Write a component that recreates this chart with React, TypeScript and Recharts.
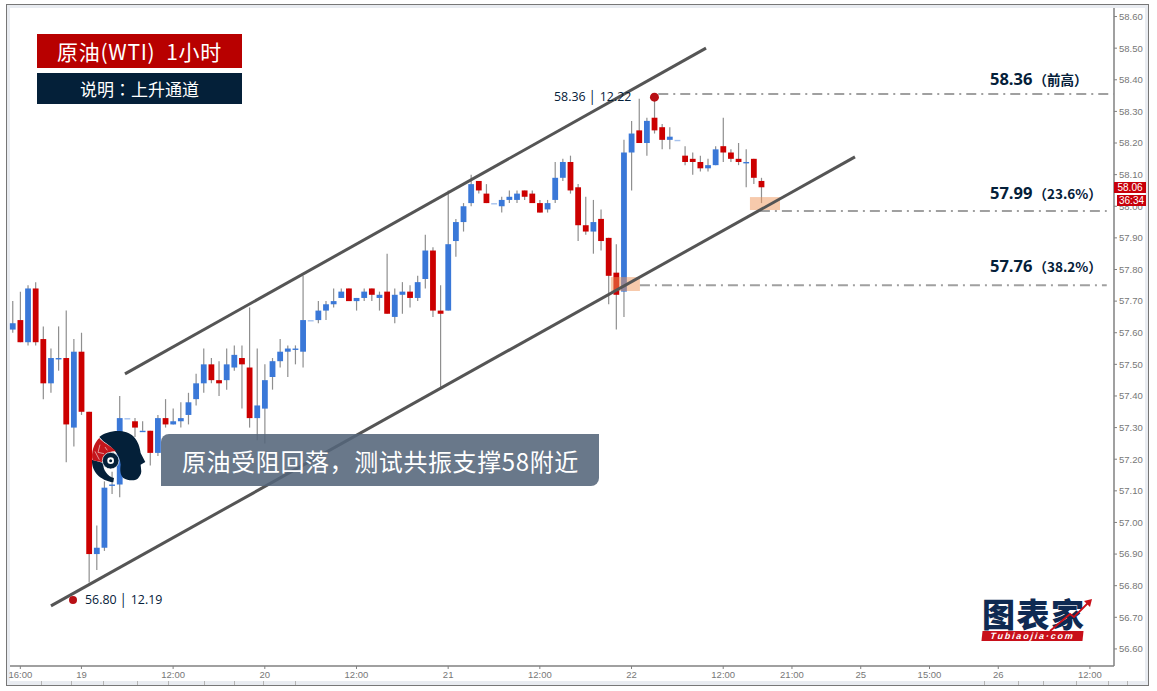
import {
  ComposedChart,
  Bar,
  XAxis,
  YAxis,
  ReferenceLine,
  ReferenceArea,
  ReferenceDot,
} from "recharts";

const NAVY = "#042039";
const RED = "#cc0000";
const BLUE = "#3a78d8";
const WICK = "#8f8f8f";
const AXIS = "#808080";
const CJK = '"Noto Sans CJK SC", "Noto Sans", sans-serif';

const opens = [
  57.61, 57.64, 57.57, 57.74, 57.58, 57.44, 57.52, 57.52, 57.3, 57.54,
  57.35, 56.9, 56.92, 57.12, 57.12, 57.33, 57.32, 57.29, 57.29, 57.22,
  57.33, 57.31, 57.32, 57.34, 57.39, 57.44, 57.5, 57.45, 57.45, 57.49,
  57.52, 57.49, 57.33, 57.36, 57.46, 57.51, 57.54, 57.55, 57.54, 57.64,
  57.64, 57.67, 57.69, 57.71, 57.74, 57.7, 57.71, 57.74, 57.71, 57.73,
  57.65, 57.72, 57.73, 57.71, 57.77, 57.86, 57.67, 57.67, 57.89, 57.95,
  58.01, 58.08, 58.04, 58.01, 58.0, 58.02, 58.02, 58.05, 58.04, 58.01,
  57.99, 58.02, 58.09, 58.14, 58.06, 57.94, 57.92, 57.96, 57.9, 57.79,
  57.73, 58.17, 58.24, 58.2, 58.28, 58.25, 58.21, 58.21, 58.16, 58.15,
  58.14, 58.12, 58.13, 58.19, 58.17, 58.15, 58.14, 58.15, 58.08,
];
const highs = [
  57.7, 57.73, 57.75, 57.76, 57.62, 57.55, 57.62, 57.67, 57.58, 57.6,
  57.35, 56.99, 57.13, 57.16, 57.4, 57.33, 57.33, 57.32, 57.29, 57.34,
  57.39, 57.36, 57.38, 57.41, 57.47, 57.55, 57.52, 57.51, 57.55, 57.56,
  57.56, 57.68, 57.55, 57.5, 57.52, 57.58, 57.56, 57.56, 57.78, 57.64,
  57.7, 57.7, 57.74, 57.74, 57.74, 57.71, 57.74, 57.74, 57.73, 57.85,
  57.74, 57.76, 57.75, 57.78, 57.91, 57.87, 57.75, 58.05, 57.96, 58.01,
  58.1, 58.08, 58.07, 58.01, 58.03, 58.05, 58.05, 58.05, 58.05, 58.02,
  58.02, 58.14, 58.15, 58.16, 58.07, 58.03, 58.02, 57.99, 57.9, 57.88,
  58.21, 58.27, 58.34, 58.28, 58.35, 58.26, 58.25, 58.21, 58.19, 58.17,
  58.16, 58.15, 58.19, 58.28, 58.18, 58.2, 58.18, 58.15, 58.09,
];
const lows = [
  57.6, 57.57, 57.56, 57.56, 57.39, 57.41, 57.48, 57.19, 57.24, 57.34,
  56.81, 56.85, 56.91, 57.09, 57.08, 57.33, 57.27, 57.29, 57.18, 57.21,
  57.3, 57.31, 57.3, 57.31, 57.37, 57.41, 57.44, 57.4, 57.42, 57.48,
  57.36, 57.3, 57.26, 57.25, 57.42, 57.49, 57.46, 57.5, 57.49, 57.64,
  57.63, 57.64, 57.68, 57.71, 57.7, 57.67, 57.7, 57.7, 57.67, 57.66,
  57.63, 57.66, 57.68, 57.7, 57.74, 57.65, 57.42, 57.67, 57.84, 57.92,
  58.0, 58.04, 58.01, 58.01, 57.98, 58.01, 58.01, 58.02, 58.01, 57.98,
  57.98, 58.01, 58.08, 58.04, 57.89, 57.91, 57.85, 57.86, 57.69, 57.61,
  57.65, 58.05, 58.2, 58.16, 58.23, 58.18, 58.18, 58.21, 58.13, 58.1,
  58.11, 58.11, 58.13, 58.14, 58.14, 58.13, 58.06, 58.07, 58.01,
];
const closes = [
  57.63, 57.57, 57.74, 57.57, 57.44, 57.52, 57.52, 57.31, 57.54, 57.35,
  56.9, 56.92, 57.11, 57.12, 57.33, 57.33, 57.3, 57.29, 57.22, 57.33,
  57.31, 57.32, 57.33, 57.38, 57.44, 57.5, 57.45, 57.44, 57.5, 57.53,
  57.5, 57.33, 57.37, 57.45, 57.51, 57.54, 57.55, 57.55, 57.64, 57.64,
  57.67, 57.69, 57.7, 57.73, 57.7, 57.71, 57.73, 57.72, 57.72, 57.66,
  57.72, 57.73, 57.71, 57.76, 57.86, 57.67, 57.66, 57.88, 57.95, 58.0,
  58.07, 58.05, 58.01, 58.01, 58.02, 58.03, 58.04, 58.03, 58.01, 57.98,
  58.01, 58.09, 58.14, 58.05, 57.94, 57.92, 57.95, 57.89, 57.78, 57.72,
  58.17, 58.23, 58.2, 58.27, 58.24, 58.21, 58.22, 58.21, 58.14, 58.14,
  58.12, 58.13, 58.18, 58.17, 58.15, 58.14, 58.14, 58.09, 58.06,
];

const xTicks = [1, 9, 21, 33, 45, 57, 69, 81, 93, 102, 111, 120, 129, 141];
const xLabels = [
  "16:00", "19", "12:00", "20", "12:00", "21", "12:00", "22", "12:00",
  "21:00", "25", "15:00", "26", "12:00",
];
const yTicks = [
  56.6, 56.7, 56.8, 56.9, 57.0, 57.1, 57.2, 57.3, 57.4, 57.5, 57.6, 57.7,
  57.8, 57.9, 58.0, 58.1, 58.2, 58.3, 58.4, 58.5, 58.6,
];
const statusSeparators = [41, 71, 103, 137, 168, 204, 234, 263, 295, 984, 1018, 1043, 1076, 1108, 1127];

const data = opens.map((open, i) => ({
  idx: i,
  open,
  high: highs[i],
  low: lows[i],
  close: closes[i],
  range: [lows[i], highs[i]],
}));

function Candle(props: any) {
  const { x, y, width, height, payload } = props;
  const { open, close, high, low } = payload;
  const span = high - low;
  const yAt = (p: number) => (span === 0 ? y : y + ((high - p) / span) * height);
  const cx = x + width / 2;
  const top = yAt(Math.max(open, close));
  const bottom = yAt(Math.min(open, close));
  const up = close >= open;
  return (
    <g>
      {span > 0 ? (
        <line x1={cx} x2={cx} y1={y} y2={y + height} stroke={WICK} strokeWidth={1.2} />
      ) : null}
      <rect
        x={x}
        y={top}
        width={width}
        height={Math.max(bottom - top, 1.4)}
        fill={up ? BLUE : RED}
        opacity={span === 0 ? 0.45 : 1}
      />
    </g>
  );
}

function Tag({ left, top, width, height, text, size }: any) {
  return (
    <div
      style={{
        position: "absolute",
        left,
        top,
        width,
        height,
        lineHeight: `${height}px`,
        background: "#c8000a",
        color: "#fff",
        fontFamily: '"Liberation Sans", sans-serif',
        fontSize: size,
        textAlign: "center",
      }}
    >
      {text}
    </div>
  );
}

function LevelLabel({ top, price, note }: any) {
  return (
    <div
      style={{
        position: "absolute",
        left: 990,
        top,
        color: NAVY,
        fontFamily: '"Open Sans", "Noto Sans CJK SC", sans-serif',
        fontWeight: 700,
        whiteSpace: "nowrap",
        lineHeight: "20px",
      }}
    >
      <span style={{ fontSize: 16.5 }}>{price}</span>
      <span style={{ fontSize: 13.5, fontFamily: CJK, marginLeft: 1 }}>{note}</span>
    </div>
  );
}

function PriceNote({ left, top, text }: any) {
  return (
    <div
      style={{
        position: "absolute",
        left,
        top,
        color: NAVY,
        fontFamily: '"Open Sans", sans-serif',
        fontSize: 12.4,
        lineHeight: "16px",
        whiteSpace: "pre",
      }}
    >
      {text}
    </div>
  );
}

function HeadLogo() {
  return (
    <svg
      width={58.3}
      height={56.7}
      viewBox="60 55 175 170"
      style={{ position: "absolute", left: 90, top: 428.3 }}
    >
      <path
        d="M88 82 C110 62 165 55 190 80 C205 95 210 115 212 130 L226 157 L212 165 L214 185 C214 195 208 200 205 205 C200 214 175 215 160 205 C150 195 150 180 152 165 C150 135 130 115 100 95 Z"
        fill={NAVY}
      />
      <path
        d="M66 150 C64 185 90 212 130 218 L132 205 C112 200 98 180 100 160 Z"
        fill={NAVY}
      />
      <path
        d="M88 85 C95 97 125 110 138 125 C115 122 100 140 98 158 L68 152 C62 130 72 100 88 85 Z"
        fill="#c4161c"
      />
      <path d="M90 105 L84 128 L102 132 M75 125 L88 150 M105 112 L112 122" stroke="#f3d5d5" strokeWidth={2} fill="none" />
      <circle cx={122} cy={153} r={25} fill={NAVY} stroke="#fff" strokeWidth={2} />
      <circle cx={122} cy={153} r={10} fill="#fff" />
      <circle cx={122} cy={153} r={4.5} fill={NAVY} />
    </svg>
  );
}

function BrandLogo() {
  return (
    <div style={{ position: "absolute", left: 982, top: 598, width: 112, height: 46 }}>
      <div
        style={{
          position: "absolute",
          left: 0,
          top: -3,
          fontFamily: CJK,
          fontWeight: 900,
          fontSize: 33,
          lineHeight: "36px",
          color: "#0f2a52",
          letterSpacing: 1.5,
          whiteSpace: "nowrap",
        }}
      >
        图表家
      </div>
      <div
        style={{
          position: "absolute",
          left: 0,
          top: 33,
          width: 101,
          height: 10,
          background: "#c8101a",
          color: "#fff",
          fontFamily: '"Liberation Sans", sans-serif',
          fontWeight: 700,
          fontStyle: "italic",
          fontSize: 9,
          lineHeight: "10px",
          letterSpacing: 1.8,
          textAlign: "center",
          transform: "skewX(-6deg)",
        }}
      >
        Tubiaojia·com
      </div>
      <svg width={112} height={46} style={{ position: "absolute", left: 0, top: 0 }}>
        <path d="M68 33 L88 16 L92 19 L107 4" stroke="#c8101a" strokeWidth={1.8} fill="none" />
        <path d="M102 3 L110 1 L108 9 Z" fill="#c8101a" />
      </svg>
    </div>
  );
}

export default function App() {
  return (
    <div style={{ position: "absolute", left: 0, top: 0, width: 1157, height: 691, background: "#fff", overflow: "hidden" }}>
      {/* window frame */}
      <div
        style={{
          position: "absolute",
          left: 6,
          top: 4,
          width: 1143,
          height: 682,
          boxSizing: "border-box",
          border: "1.5px solid #777",
          background: "#e9ecf1",
        }}
      />
      <div style={{ position: "absolute", left: 10, top: 8, width: 1135, height: 673, background: "#fff" }} />
      {statusSeparators.map((left) => (
        <div key={left} style={{ position: "absolute", left, top: 681, width: 1, height: 4, background: "#b5b5b5" }} />
      ))}

      <div style={{ position: "absolute", left: 0, top: 0 }}>
        <ComposedChart
          width={1145}
          height={681}
          data={data}
          margin={{ top: 8, right: 0, left: 10, bottom: 0 }}
        >
          <XAxis
            type="number"
            dataKey="idx"
            domain={[-0.35, 144.15]}
            ticks={xTicks}
            interval={0}
            height={15}
            tickSize={3}
            tickMargin={2}
            axisLine={{ stroke: AXIS, strokeWidth: 1.5 }}
            tickLine={{ stroke: AXIS }}
            tick={{ fill: "#777", fontSize: 9.5, fontFamily: '"Liberation Sans", sans-serif' }}
            tickFormatter={(v) => xLabels[xTicks.indexOf(v)]}
          />
          <YAxis
            orientation="right"
            type="number"
            domain={[56.546, 58.627]}
            ticks={yTicks}
            interval={0}
            width={31}
            tickSize={3}
            tickMargin={2}
            axisLine={{ stroke: AXIS, strokeWidth: 1.5 }}
            tickLine={{ stroke: AXIS }}
            tick={{ fill: "#777", fontSize: 9.5, fontFamily: '"Liberation Sans", sans-serif' }}
            tickFormatter={(v) => Number(v).toFixed(2)}
          />
          <Bar dataKey="range" barSize={5.8} shape={Candle} isAnimationActive={false} />
          <ReferenceArea x1={78.3} x2={82.1} y1={57.732} y2={57.776} fill="#f0965a" fillOpacity={0.5} stroke="none" {...({ zIndex: 350 } as any)} />
          <ReferenceArea x1={96.5} x2={100.43} y1={57.988} y2={58.029} fill="#f0965a" fillOpacity={0.5} stroke="none" {...({ zIndex: 350 } as any)} />
          <ReferenceLine
            segment={[{ x: 84.5, y: 58.355 }, { x: 144.1, y: 58.355 }]}
            stroke="#a0a0a0"
            strokeWidth={2}
            strokeDasharray="10 5 2 5"
          />
          <ReferenceLine
            segment={[{ x: 97.8, y: 57.985 }, { x: 143.2, y: 57.985 }]}
            stroke="#a0a0a0"
            strokeWidth={2}
            strokeDasharray="10 5 2 5"
          />
          <ReferenceLine
            segment={[{ x: 82.1, y: 57.75 }, { x: 143.2, y: 57.75 }]}
            stroke="#a0a0a0"
            strokeWidth={2}
            strokeDasharray="10 5 2 5"
          />
          <ReferenceLine
            segment={[{ x: 14.7, y: 57.47 }, { x: 90.75, y: 58.5 }]}
            stroke="#555"
            strokeWidth={3}
          />
          <ReferenceLine
            segment={[{ x: 5.01, y: 56.736 }, { x: 110.25, y: 58.156 }]}
            stroke="#555"
            strokeWidth={3}
          />
          <ReferenceDot x={84} y={58.345} r={4.5} fill="#b80f14" stroke="none" />
          <ReferenceDot x={7.9} y={56.755} r={4} fill="#b80f14" stroke="none" />
        </ComposedChart>
      </div>

      {/* title boxes */}
      <div
        style={{
          position: "absolute",
          left: 37,
          top: 34,
          width: 205,
          height: 34,
          background: "#b80000",
          color: "#fff",
          fontFamily: CJK,
          fontSize: 21,
          letterSpacing: 0.7,
          lineHeight: "34px",
          textAlign: "center",
          whiteSpace: "pre",
        }}
      >
        原油(WTI)  1小时
      </div>
      <div
        style={{
          position: "absolute",
          left: 37,
          top: 73,
          width: 205,
          height: 31,
          background: NAVY,
          color: "#fff",
          fontFamily: CJK,
          fontSize: 17,
          lineHeight: "31px",
          textAlign: "center",
          whiteSpace: "pre",
        }}
      >
        说明<span style={{ fontFamily: '"Noto Sans CJK TC"' }}>：</span>上升通道
      </div>

      <PriceNote left={554} top={89} text="58.36 │ 12.22" />
      <PriceNote left={85} top={592} text="56.80 │ 12.19" />
      <LevelLabel top={69} price="58.36" note="（前高）" />
      <LevelLabel top={183} price="57.99" note="（23.6%）" />
      <LevelLabel top={256} price="57.76" note="（38.2%）" />

      <Tag left={1114} top={182} width={32} height={11} text="58.06" size={10} />
      <Tag left={1117} top={195} width={29} height={11} text="36:34" size={10} />

      <div
        style={{
          position: "absolute",
          left: 161,
          top: 434,
          width: 438,
          height: 52,
          borderRadius: "8px 0 8px 0",
          background: "rgba(84,101,122,0.88)",
          color: "#fff",
          fontFamily: CJK,
          fontSize: 24,
          letterSpacing: 0.6,
          lineHeight: "53px",
          paddingLeft: 21,
          boxSizing: "border-box",
          whiteSpace: "nowrap",
        }}
      >
        原油受阻回落，测试共振支撑58附近
      </div>

      <HeadLogo />
      <BrandLogo />
    </div>
  );
}
